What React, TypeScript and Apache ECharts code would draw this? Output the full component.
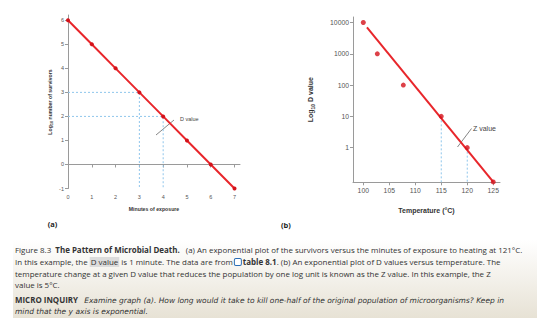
import React, { useEffect, useRef } from "react";
import * as echarts from "echarts";

// (a) survivors vs minutes of exposure
const minutes = [0, 1, 2, 3, 4, 5, 6, 7];
const logSurvivors = [6, 5, 4, 3, 2, 1, 0, -1];
const minuteTicks = [0, 1, 2, 3, 4, 5, 6, 7];
const survivorTicks = [-1, 0, 1, 2, 3, 4, 5, 6];
// D value guides: log 3 reached at 3 min, log 2 reached at 4 min
const dGuideA = [[0, 3], [3, 3], [3, -1]];
const dGuideB = [[0, 2], [4, 2], [4, -1]];

// (b) D value vs temperature
const temperatures = [100, 102.7, 107.7, 115, 120, 125];
const dValues = [10000, 1000, 100, 10, 1, 0.08];
const fitLine = [[100.7, 7000], [125, 0.08]];
const temperatureTicks = [100, 105, 110, 115, 120, 125];
const dValueTicks = [1, 10, 100, 1000, 10000];
const zGuideA = [[115, 10], [115, 0.078]];
const zGuideB = [[120, 1], [120, 0.078]];

const RED = "#e8262b";
const DOT = "#d4121a";
const AXIS = "#9a9a9a";
const GUIDE = "#8fc6ec";
const CHART_FONT = "Liberation Sans";
const TEXT_FONT = "Open Sans";
const ITALIC_FONT = "DejaVu Sans";
const CAP = 7.95;

export default function App() {
  const ref = useRef<HTMLDivElement>(null);

  useEffect(() => {
    const chart = echarts.init(ref.current!, null, { renderer: "svg" });

    const axisLine = { show: true, lineStyle: { color: AXIS, width: 1 } };
    const guideStyle = { color: GUIDE, width: 1, type: [2, 2] as number[] };

    const captionLines: string[] = [
      "{fig|Figure 8.3}  {b|The Pattern of Microbial Death.}   (a) An exponential plot of the survivors versus the minutes of exposure to heating at 121°C.",
      "In this example, the {hl|D value} is 1 minute. The data are from {ic|}{lnk|table 8.1}. (b) An exponential plot of D values versus temperature. The",
      "temperature change at a given D value that reduces the population by one log unit is known as the Z value. In this example, the Z",
      "value is 5°C.",
      "{mi|MICRO INQUIRY}   {it|Examine graph (a). How long would it take to kill one-half of the original population of microorganisms? Keep in}",
      "{it|mind that the y axis is exponential.}",
    ];
    const captionY = [250, 262, 273.5, 285, 300, 311.5];
    const rich = {
      fig: { fontFamily: TEXT_FONT, fontSize: CAP, color: "#1f7ea6" },
      b: { fontFamily: TEXT_FONT, fontSize: CAP, fontWeight: "bold", color: "#1c1c1c" },
      hl: { fontFamily: TEXT_FONT, fontSize: CAP, color: "#333", backgroundColor: "#dcdcdc", padding: [1, 1, 1, 1] },
      ic: { width: 6, height: 6, borderColor: "#2a6db5", borderWidth: 1, borderRadius: 1, backgroundColor: "#fff" },
      lnk: { fontFamily: TEXT_FONT, fontSize: CAP, fontWeight: "bold", color: "#1f5fa8", padding: [0, 0, 0, 2] },
      mi: { fontFamily: TEXT_FONT, fontSize: CAP, fontWeight: "bold", color: "#1d8199" },
      it: { fontFamily: ITALIC_FONT, fontSize: 7.5, fontStyle: "italic", color: "#333" },
    };

    chart.setOption({
      animation: false,
      backgroundColor: "#ffffff",
      grid: [
        { left: 68, top: 15, width: 172, height: 173.5 },
        { left: 353, top: 17, width: 147, height: 165.3 },
      ],
      xAxis: [
        {
          gridIndex: 0,
          type: "value",
          min: 0,
          max: 7.23,
          axisLine,
          splitLine: { show: false },
          axisTick: { show: true, length: 3, lineStyle: { color: AXIS }, customValues: minuteTicks },
          axisLabel: { customValues: minuteTicks, fontSize: 5.5, color: "#555", margin: 5, fontFamily: CHART_FONT },
          name: "Minutes of exposure",
          nameLocation: "middle",
          nameGap: 18,
          nameTextStyle: { fontSize: 5.2, fontWeight: "bold", color: "#333", fontFamily: CHART_FONT },
        },
        {
          gridIndex: 1,
          type: "value",
          min: 98.02,
          max: 126.3,
          axisLine,
          splitLine: { show: false },
          axisTick: { show: true, length: 3, lineStyle: { color: AXIS }, customValues: temperatureTicks },
          axisLabel: { customValues: temperatureTicks, fontSize: 6.8, color: "#555", margin: 5, fontFamily: CHART_FONT },
          name: "Temperature (°C)",
          nameLocation: "middle",
          nameGap: 25,
          nameTextStyle: { fontSize: 7, fontWeight: "bold", color: "#333", fontFamily: CHART_FONT },
        },
      ],
      yAxis: [
        {
          gridIndex: 0,
          type: "value",
          min: -1,
          max: 6.22,
          axisLine,
          splitLine: { show: false },
          axisTick: { show: true, length: 3, lineStyle: { color: AXIS }, customValues: survivorTicks },
          axisLabel: { customValues: survivorTicks, fontSize: 5.5, color: "#555", margin: 4, fontFamily: CHART_FONT },
        },
        {
          gridIndex: 1,
          type: "log",
          min: 0.078,
          max: 15000,
          logBase: 10,
          axisLine,
          splitLine: { show: false },
          axisTick: { show: true, length: 3, lineStyle: { color: AXIS }, customValues: dValueTicks },
          axisLabel: {
            customValues: dValueTicks,
            formatter: (v: number) => String(Math.round(v)),
            fontSize: 6.8,
            color: "#555",
            margin: 4,
            fontFamily: CHART_FONT,
          },
          name: "{a|Log}{s|10}{a| D value}",
          nameLocation: "middle",
          nameGap: 38,
          nameRotate: 90,
          nameTextStyle: {
            rich: {
              a: { fontSize: 7, fontWeight: "bold", color: "#333", fontFamily: CHART_FONT },
              s: { fontSize: 5, fontWeight: "bold", color: "#333", fontFamily: CHART_FONT, padding: [4, 0, 0, 0] },
            },
          },
        },
      ],
      series: [
        { type: "line", xAxisIndex: 0, yAxisIndex: 0, data: dGuideA, symbol: "none", lineStyle: guideStyle, z: 1 },
        { type: "line", xAxisIndex: 0, yAxisIndex: 0, data: dGuideB, symbol: "none", lineStyle: guideStyle, z: 1 },
        {
          type: "line",
          xAxisIndex: 0,
          yAxisIndex: 0,
          data: minutes.map((m, i) => [m, logSurvivors[i]]),
          symbol: "circle",
          symbolSize: 4,
          lineStyle: { color: RED, width: 2 },
          itemStyle: { color: DOT },
          z: 3,
        },
        { type: "line", xAxisIndex: 1, yAxisIndex: 1, data: zGuideA, symbol: "none", lineStyle: guideStyle, z: 1 },
        { type: "line", xAxisIndex: 1, yAxisIndex: 1, data: zGuideB, symbol: "none", lineStyle: guideStyle, z: 1 },
        {
          type: "line",
          xAxisIndex: 1,
          yAxisIndex: 1,
          data: fitLine,
          symbol: "none",
          lineStyle: { color: RED, width: 2 },
          z: 2,
        },
        {
          type: "scatter",
          xAxisIndex: 1,
          yAxisIndex: 1,
          data: temperatures.map((t, i) => [t, dValues[i]]),
          symbol: "circle",
          symbolSize: 5,
          itemStyle: { color: DOT },
          z: 3,
        },
      ],
      graphic: [
        // caption panel
        {
          type: "rect",
          shape: { x: 13, y: 240, width: 524, height: 78 },
          style: {
            fill: new echarts.graphic.LinearGradient(0, 0, 0, 1, [
              { offset: 0, color: "#ffffff" },
              { offset: 1, color: "#e7e2d5" },
            ]),
          },
          z: -10,
        },
        // y title of panel (a)
        {
          type: "text",
          x: 50,
          y: 102,
          rotation: Math.PI / 2,
          style: {
            text: "{a|Log}{s|10}{a| number of survivors}",
            align: "center",
            verticalAlign: "middle",
            rich: {
              a: { fontSize: 5.2, fontWeight: "bold", fill: "#333", fontFamily: CHART_FONT },
              s: { fontSize: 3.8, fontWeight: "bold", fill: "#333", fontFamily: CHART_FONT, padding: [3, 0, 0, 0] },
            },
          },
        },
        // D value pointer
        { type: "line", shape: { x1: 156, y1: 135, x2: 174, y2: 120 }, style: { stroke: "#666", lineWidth: 0.8 } },
        {
          type: "text",
          x: 180,
          y: 119,
          style: { text: "D value", fontSize: 5.5, fill: "#444", fontFamily: CHART_FONT, verticalAlign: "middle" },
        },
        // Z value pointer
        { type: "line", shape: { x1: 457.5, y1: 147, x2: 471.5, y2: 128.5 }, style: { stroke: "#666", lineWidth: 0.8 } },
        {
          type: "text",
          x: 473,
          y: 128,
          style: { text: "Z value", fontSize: 7, fill: "#444", fontFamily: CHART_FONT, verticalAlign: "middle" },
        },
        // panel letters
        {
          type: "text",
          x: 52.5,
          y: 223.5,
          style: { text: "(a)", fontSize: 7.5, fontWeight: "bold", fill: "#222", fontFamily: TEXT_FONT, align: "center", verticalAlign: "middle" },
        },
        {
          type: "text",
          x: 286,
          y: 225,
          style: { text: "(b)", fontSize: 7.5, fontWeight: "bold", fill: "#222", fontFamily: TEXT_FONT, align: "center", verticalAlign: "middle" },
        },
        // caption text
        ...captionLines.map((line, i) => ({
          type: "text",
          x: 15,
          y: captionY[i],
          style: {
            text: line,
            fontSize: CAP,
            fontFamily: TEXT_FONT,
            fill: "#333",
            verticalAlign: "middle",
            rich,
          },
        })),
      ],
    });

    return () => chart.dispose();
  }, []);

  return (
    <div
      ref={ref}
      style={{ position: "fixed", left: 0, top: 0, width: 560, height: 323, background: "#fff" }}
    />
  );
}
